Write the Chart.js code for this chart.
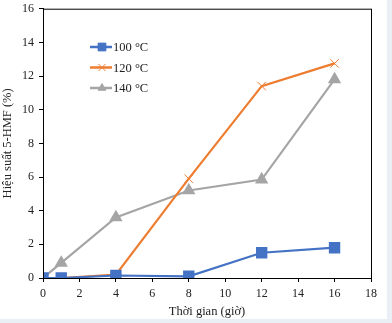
<!DOCTYPE html>
<html>
<head>
<meta charset="utf-8">
<script src="https://cdn.jsdelivr.net/npm/chart.js@4.4.0/dist/chart.umd.min.js"></script>
<style>
  html, body { margin: 0; padding: 0; background: #eaeff6; }
  #wrap { width: 387px; height: 319px; background: #fff; }
</style>
</head>
<body>
<div id="wrap"><canvas id="hmfChart" width="387" height="319"></canvas></div>
<script>
const hours = [0, 1, 4, 8, 12, 16];
const yield100 = [0, 0, 0.15, 0.1, 1.5, 1.8];
const yield120 = [0, 0, 0.2, 5.9, 11.4, 12.75];
const yield140 = [0, 0.9, 3.6, 5.2, 5.85, 11.8];
const seriesNames = ['100 °C', '120 °C', '140 °C'];

const FONT = '"Liberation Serif", "Times New Roman", serif';

function toPoints(values) {
  return hours.map((h, i) => ({ x: h, y: values[i] }));
}

// box around plot area + legend in the upper left, Excel style
const frameAndLegend = {
  id: 'frameAndLegend',
  afterDraw(chart) {
    const { ctx, chartArea } = chart;
    ctx.save();
    ctx.strokeStyle = '#000';
    ctx.lineWidth = 1;
    ctx.strokeRect(chartArea.left + 0.5, chartArea.top + 0.5,
      chartArea.right - chartArea.left, chartArea.bottom - chartArea.top);

    const x0 = 90, y0 = 47, rowGap = 20.5;
    chart.data.datasets.forEach((ds, i) => {
      const y = y0 + i * rowGap;
      ctx.strokeStyle = ds.borderColor;
      ctx.fillStyle = ds.backgroundColor;
      ctx.lineWidth = 2.5;
      ctx.beginPath();
      ctx.moveTo(x0, y);
      ctx.lineTo(x0 + 22, y);
      ctx.stroke();
      ctx.lineWidth = 1;
      Chart.helpers.drawPoint(ctx, {
        pointStyle: ds.pointStyle,
        radius: ds.legendRadius,
        rotation: 0,
        borderWidth: 1
      }, x0 + 12, y);
      ctx.fillStyle = '#222';
      ctx.font = '12.5px ' + FONT;
      ctx.textBaseline = 'middle';
      ctx.fillText(ds.label, x0 + 23, y + 1);
    });
    ctx.restore();
  }
};

const ctx = document.getElementById('hmfChart').getContext('2d');

const config = {
  type: 'line',
  data: {
    datasets: [{
      label: seriesNames[0],
      data: toPoints(yield100),
      borderColor: '#4472C4',
      backgroundColor: '#4472C4',
      pointStyle: 'rect',
      pointRadius: 6.5,
      legendRadius: 5.5,
      borderWidth: 2.2,
    }, {
      label: seriesNames[1],
      data: toPoints(yield120),
      borderColor: '#ED7D31',
      backgroundColor: '#ED7D31',
      pointBorderColor: '#ED7D31',
      pointStyle: 'crossRot',
      pointRadius: 6,
      legendRadius: 5,
      pointBorderWidth: 1,
      borderWidth: 2.2,
    }, {
      label: seriesNames[2],
      data: toPoints(yield140),
      borderColor: '#A5A5A5',
      backgroundColor: '#A5A5A5',
      pointStyle: 'triangle',
      pointRadius: 5.5,
      legendRadius: 4.5,
      borderWidth: 2.2,
    }]
  },
  options: {
    responsive: false,
    animation: false,
    layout: { padding: { left: 0, top: 5, right: 16, bottom: 0 } },
    plugins: {
      legend: { display: false },
      tooltip: { enabled: false }
    },
    scales: {
      x: {
        type: 'linear',
        min: 0,
        max: 18,
        ticks: { stepSize: 2, color: '#222', font: { family: FONT, size: 12 }, padding: 5 },
        grid: { drawOnChartArea: false, color: '#000', tickLength: 4 },
        border: { color: '#000', width: 1 },
        title: {
          display: true,
          text: 'Thời gian (giờ)',
          color: '#222',
          font: { family: FONT, size: 12.5 },
          padding: { top: 2, bottom: 0 }
        },
        afterFit(scale) {
          scale.height = 41;
          scale.paddingLeft = 0;
          scale.paddingRight = 0;
        }
      },
      y: {
        min: 0,
        max: 16,
        ticks: { stepSize: 2, color: '#222', font: { family: FONT, size: 12 }, padding: 5 },
        grid: { drawOnChartArea: false, color: '#000', tickLength: 4 },
        border: { color: '#000', width: 1 },
        title: {
          display: true,
          text: 'Hiệu suất 5-HMF (%)',
          color: '#222',
          font: { family: FONT, size: 12.5 },
          padding: { top: 0, bottom: 2 }
        },
        afterFit(scale) {
          scale.width = 43;
          scale.paddingTop = 0;
          scale.paddingBottom = 0;
        }
      }
    }
  },
  plugins: [frameAndLegend]
};

const hmfChart = new Chart(ctx, config);
</script>
</body>
</html>
